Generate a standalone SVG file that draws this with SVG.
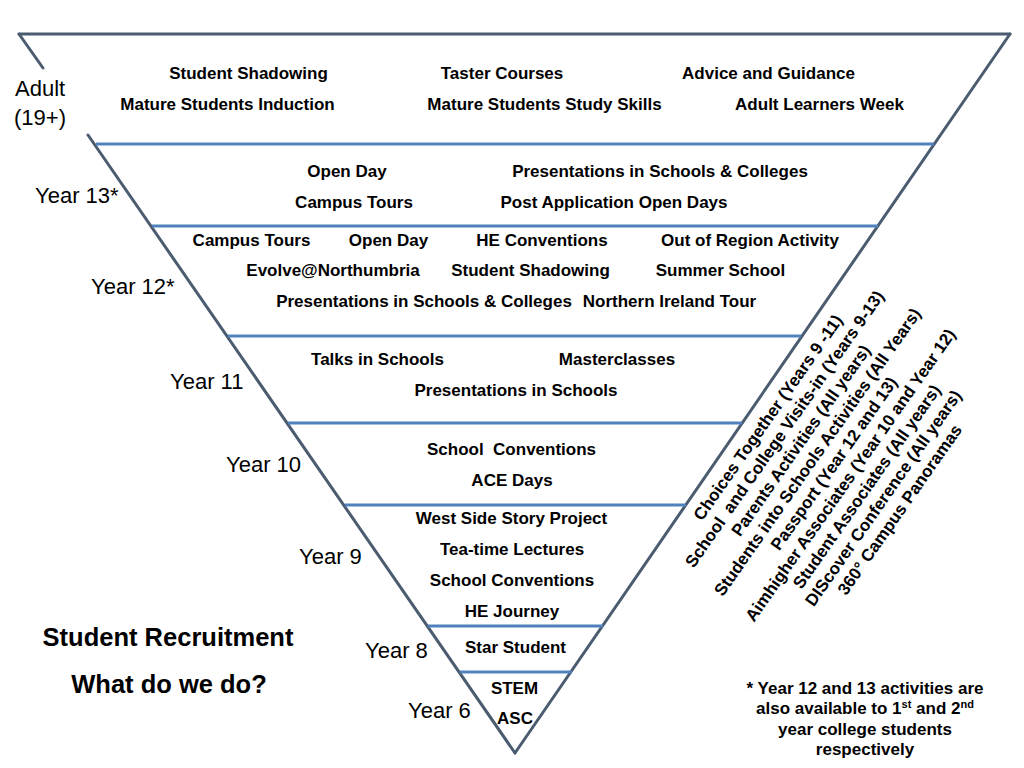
<svg xmlns="http://www.w3.org/2000/svg" width="1024" height="768" viewBox="0 0 1024 768">
<style>
.b{font-family:"Liberation Sans",Arial,sans-serif;font-weight:bold;font-size:17px;fill:#000;text-anchor:middle;white-space:pre}
.y{font-family:"Liberation Sans",Arial,sans-serif;font-size:22px;fill:#000}
.t{font-family:"Liberation Sans",Arial,sans-serif;font-weight:bold;font-size:25.5px;fill:#000;text-anchor:middle}
.edge{stroke:#4b5b70;stroke-width:3;fill:none;stroke-linecap:round}
.sep{stroke:#4f81bd;stroke-width:3;fill:none}
</style>
<rect width="1024" height="768" fill="#fff"/>
<g id="triangle">
<line class="edge" x1="19" y1="34" x2="1010" y2="34"/>
<line class="edge" x1="1010" y1="34" x2="515" y2="753"/>
<line class="edge" x1="19" y1="34" x2="43" y2="68"/>
<line class="edge" x1="88" y1="135" x2="515" y2="753"/>
</g>
<g id="connectors">
<line class="sep" x1="96" y1="144" x2="934" y2="144"/>
<line class="sep" x1="152" y1="226" x2="878" y2="226"/>
<line class="sep" x1="228" y1="336" x2="801" y2="336"/>
<line class="sep" x1="288" y1="423" x2="742" y2="423"/>
<line class="sep" x1="345" y1="505" x2="686" y2="505"/>
<line class="sep" x1="428" y1="626" x2="603" y2="626"/>
<line class="sep" x1="460" y1="672" x2="572" y2="672"/>
</g>
<g id="adult">
<text class="y" x="15" y="96">Adult</text>
<text class="y" x="14" y="125">(19+)</text>
<text class="b" x="248.5" y="79">Student Shadowing</text>
<text class="b" x="502" y="79">Taster Courses</text>
<text class="b" x="768.5" y="79">Advice and Guidance</text>
<text class="b" x="227.5" y="110">Mature Students Induction</text>
<text class="b" x="544.5" y="110">Mature Students Study Skills</text>
<text class="b" x="819.5" y="110">Adult Learners Week</text>
</g>
<g id="year13">
<text class="y" x="35" y="203">Year 13*</text>
<text class="b" x="347" y="177">Open Day</text>
<text class="b" x="660" y="177">Presentations in Schools &amp; Colleges</text>
<text class="b" x="354" y="208">Campus Tours</text>
<text class="b" x="614" y="208">Post Application Open Days</text>
</g>
<g id="year12">
<text class="y" x="91" y="294">Year 12*</text>
<text class="b" x="251.5" y="246">Campus Tours</text>
<text class="b" x="388.5" y="246">Open Day</text>
<text class="b" x="542" y="246">HE Conventions</text>
<text class="b" x="750" y="246">Out of Region Activity</text>
<text class="b" x="333" y="276">Evolve@Northumbria</text>
<text class="b" x="530.5" y="276">Student Shadowing</text>
<text class="b" x="720.5" y="276">Summer School</text>
<text class="b" x="424" y="307">Presentations in Schools &amp; Colleges</text>
<text class="b" x="669.5" y="307">Northern Ireland Tour</text>
</g>
<g id="year11">
<text class="y" x="170" y="389">Year 11</text>
<text class="b" x="377.5" y="365">Talks in Schools</text>
<text class="b" x="617" y="365">Masterclasses</text>
<text class="b" x="516" y="396">Presentations in Schools</text>
</g>
<g id="year10">
<text class="y" x="226" y="472">Year 10</text>
<text class="b" x="511.5" y="455">School  Conventions</text>
<text class="b" x="512" y="486">ACE Days</text>
</g>
<g id="year9">
<text class="y" x="299" y="564">Year 9</text>
<text class="b" x="511.5" y="524">West Side Story Project</text>
<text class="b" x="512" y="555">Tea-time Lectures</text>
<text class="b" x="512" y="586">School Conventions</text>
<text class="b" x="512" y="617">HE Journey</text>
</g>
<g id="year8">
<text class="y" x="365" y="658">Year 8</text>
<text class="b" x="515.5" y="653">Star Student</text>
</g>
<g id="year6">
<text class="y" x="408" y="718">Year 6</text>
<text class="b" x="514.5" y="694">STEM</text>
<text class="b" x="515" y="724">ASC</text>
</g>
<g id="all-years" transform="translate(834.5,464) rotate(-55)">
<text class="b" x="0" y="-75.4">Choices Together (Years 9 -11)</text>
<text class="b" x="0" y="-55.3">School  and College Visits-in (Years 9-13)</text>
<text class="b" x="0" y="-35.2">Parents Activities (All years)</text>
<text class="b" x="0" y="-15.1">Students into Schools Activities (All Years)</text>
<text class="b" x="0" y="5">Passport (Year 12 and 13)</text>
<text class="b" x="0" y="25.1">Aimhigher Associates (Year 10 and Year 12)</text>
<text class="b" x="0" y="45.2">Student Associates (All years)</text>
<text class="b" x="0" y="65.3">DIScover Conference (All years)</text>
<text class="b" x="0" y="85.4">360° Campus Panoramas</text>
</g>
<g id="title">
<text class="t" x="168" y="646">Student Recruitment</text>
<text class="t" x="169" y="693">What do we do?</text>
</g>
<g id="footnote">
<text class="b" x="865" y="694">* Year 12 and 13 activities are</text>
<text class="b" x="865" y="714">also available to 1<tspan dy="-6" style="font-size:11px">st</tspan><tspan dy="6"> and 2</tspan><tspan dy="-6" style="font-size:11px">nd</tspan></text>
<text class="b" x="865" y="735">year college students</text>
<text class="b" x="865" y="755">respectively</text>
</g>
</svg>
